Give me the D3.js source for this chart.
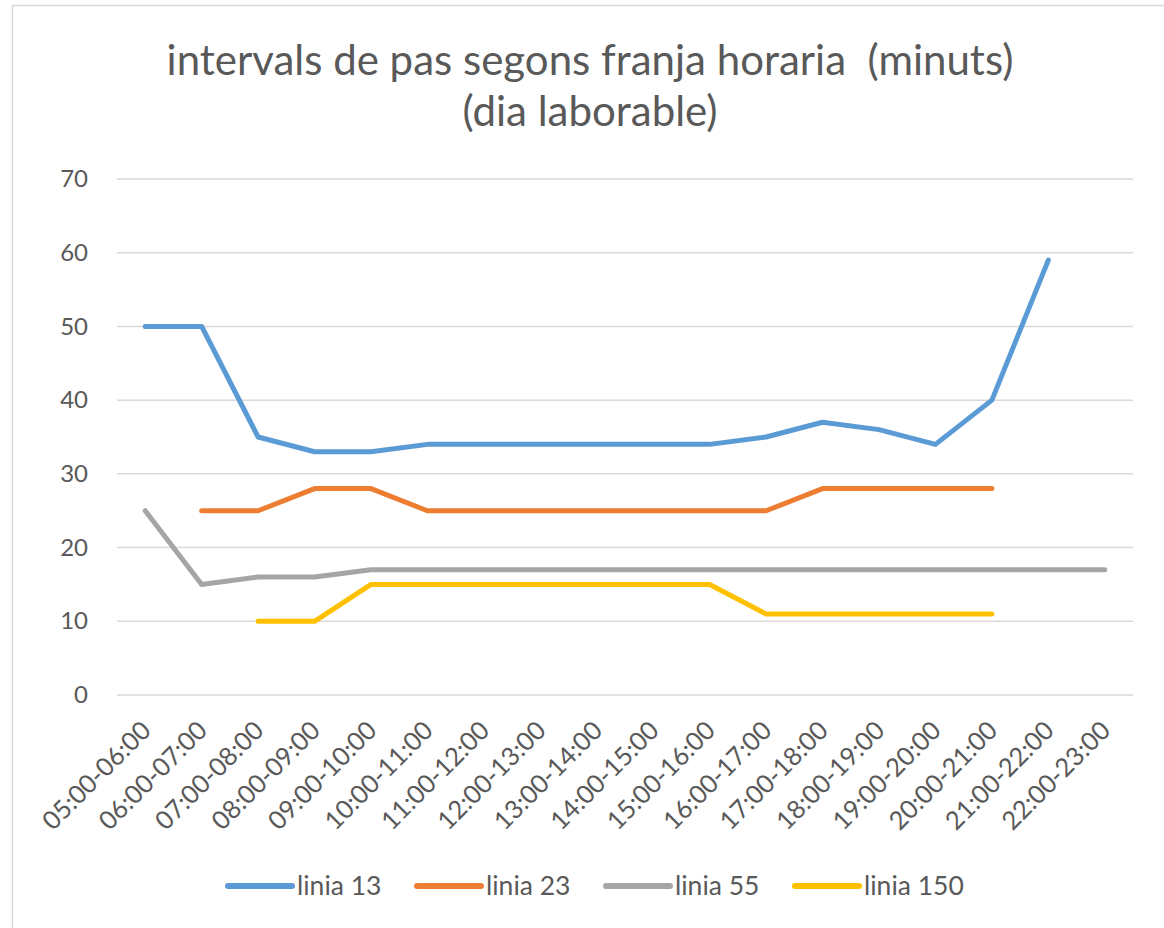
<!DOCTYPE html>
<html><head><meta charset="utf-8">
<script src="https://cdn.jsdelivr.net/npm/d3@7"></script>
<style>body{margin:0;background:#fff}text{font-family:Lato,"Open Sans",sans-serif;fill:#595959}</style>
</head><body>
<svg id="c" width="1164" height="928"></svg>
<script>
const categories = ["05:00-06:00","06:00-07:00","07:00-08:00","08:00-09:00","09:00-10:00","10:00-11:00","11:00-12:00","12:00-13:00","13:00-14:00","14:00-15:00","15:00-16:00","16:00-17:00","17:00-18:00","18:00-19:00","19:00-20:00","20:00-21:00","21:00-22:00","22:00-23:00"];
const linia13 = [50,50,35,33,33,34,34,34,34,34,34,35,37,36,34,40,59,null];
const linia23 = [null,25,25,28,28,25,25,25,25,25,25,25,28,28,28,28,null,null];
const linia55 = [25,15,16,16,17,17,17,17,17,17,17,17,17,17,17,17,17,17];
const linia150 = [null,null,10,10,15,15,15,15,15,15,15,11,11,11,11,11,null,null];
const yTicks = [0,10,20,30,40,50,60,70];
const seriesNames = ["linia 13","linia 23","linia 55","linia 150"];
const colors = ["#5B9BD5","#ED7D31","#A5A5A5","#FFC000"];
const series = [linia13, linia23, linia55, linia150];

const svg = d3.select("#c");
svg.append("rect").attr("x",12.5).attr("y",5.5).attr("width",1200).attr("height",1000)
  .attr("fill","none").attr("stroke","#D9D9D9").attr("stroke-width",1.5);

const L=117, R=1133, T=179, B=695;
const x = d3.scaleBand().domain(categories).range([L,R]);
const y = d3.scaleLinear().domain([0,70]).range([B,T]);

const title = svg.append("text").attr("text-anchor","middle").attr("font-size",42).style("white-space","pre");
title.append("tspan").attr("x",590).attr("y",75).text("intervals de pas segons franja horaria  (minuts)");
title.append("tspan").attr("x",590).attr("y",126).text("(dia laborable)");

svg.append("g").selectAll("line").data(yTicks).join("line")
  .attr("x1",L).attr("x2",R).attr("y1",d=>y(d)).attr("y2",d=>y(d))
  .attr("stroke","#D9D9D9").attr("stroke-width",1.5);

const ya = svg.append("g").attr("transform",`translate(${L},0)`)
  .call(d3.axisLeft(y).tickValues(yTicks).tickSize(0).tickPadding(29));
ya.select(".domain").remove();
ya.selectAll("text").attr("font-size",24).style("font-family","Lato,sans-serif").attr("fill","#595959");

const xa = svg.append("g").attr("transform",`translate(0,${B})`)
  .call(d3.axisBottom(x).tickSize(0));
xa.select(".domain").remove();
xa.selectAll("text").attr("font-size",25.5).style("font-family","Lato,sans-serif").attr("fill","#595959")
  .attr("text-anchor","end").attr("dy",0)
  .attr("transform","translate(5,35) rotate(-45)");

const line = d3.line().defined(d=>d!=null).x((d,i)=>x(categories[i])+x.bandwidth()/2).y(d=>y(d));
series.forEach((s,k)=>{
  svg.append("path").datum(s).attr("d",line).attr("fill","none")
    .attr("stroke",colors[k]).attr("stroke-width",5).attr("stroke-linejoin","round").attr("stroke-linecap","round");
});

const lx = [228,417,606,795];
const lg = svg.append("g");
seriesNames.forEach((n,k)=>{
  lg.append("line").attr("x1",lx[k]).attr("x2",lx[k]+64).attr("y1",886).attr("y2",886)
    .attr("stroke",colors[k]).attr("stroke-width",6).attr("stroke-linecap","round");
  lg.append("text").attr("x",lx[k]+69).attr("y",895).attr("font-size",26.5).text(n);
});
</script>
</body></html>
